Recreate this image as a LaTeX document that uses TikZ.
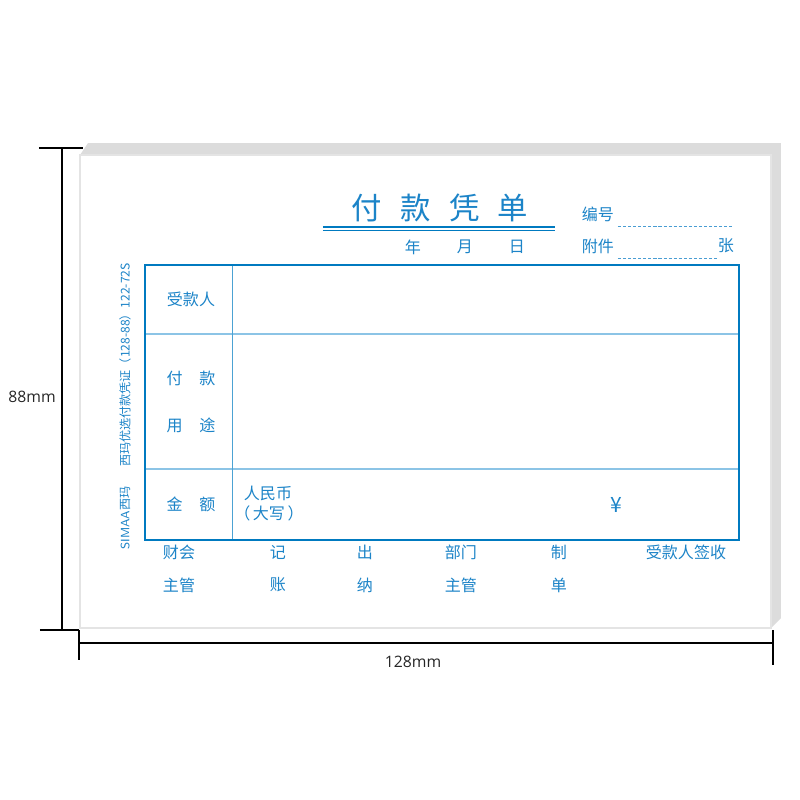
\documentclass[tikz,border=0pt]{standalone}
\usepackage{fontspec}
\setmainfont{Noto Sans CJK SC}
\newfontfamily\dimfont{Open Sans}
\usetikzlibrary{positioning}

\definecolor{formblue}{RGB}{0,122,192}
\definecolor{textblue}{RGB}{28,132,200}
\definecolor{rowblue}{RGB}{140,196,230}
\definecolor{shadowgray}{RGB}{220,220,220}
\definecolor{edgegray}{RGB}{228,228,228}

\newcommand{\sep}{\hspace{1.05em}}

\begin{document}
\begin{tikzpicture}[x=0.0125cm,y=-0.0125cm,
  lbl/.style={text=textblue,inner sep=0pt,font=\fontsize{5.7}{6.5}\selectfont},
  small/.style={text=textblue,inner sep=0pt,font=\fontsize{4.3}{5}\selectfont},
  dimtext/.style={inner sep=0pt,text=black!85,font=\dimfont\fontsize{5.6}{6}\selectfont},
  dimline/.style={black,line width=0.4pt},
  rowline/.style={rowblue,line width=0.5pt},
  fillin/.style={textblue!80,line width=0.35pt,dash pattern=on 1.1pt off 0.7pt}]
  \useasboundingbox (0,0) rectangle (800,800);

  % sheet with its stack behind
  \coordinate (tl) at (80,155);
  \coordinate (br) at (771,628);
  \fill[shadowgray] (tl) -- (88,143) -- (781,143) -- (781,618) -- (br) -- cycle;
  \filldraw[fill=white,draw=edgegray,line width=0.4pt] (tl) rectangle (br);

  % dimensions
  \coordinate (h1) at (62,148);
  \coordinate (h2) at (62,630);
  \coordinate (w1) at (79,643);
  \coordinate (w2) at (773,643);
  \draw[dimline] (39,148) -- (83,148);
  \draw[dimline] (40,630) -- (79,630);
  \draw[dimline] (h1) -- (h2);
  \draw[dimline] (79,630) -- (79,660);
  \draw[dimline] (773,630) -- (773,665);
  \draw[dimline] (w1) -- (w2);
  \node[dimtext] (hgt) at (32,397) {88mm};
  \node[dimtext] (wid) at (413,662) {128mm};

  % heading
  \node[text=textblue,inner sep=0pt,font=\fontsize{10.8}{12}\selectfont] (title) at (440,208)
    {付\hspace{0.6em}款\hspace{0.6em}凭\hspace{0.6em}单};
  \draw[formblue,line width=0.5pt] (323,226.8) -- (555,226.8);
  \draw[formblue,line width=0.4pt] (323,230.6) -- (555,230.6);
  \node[lbl] (year)  at (413,247) {年};
  \node[lbl] (month) at (465,247) {月};
  \node[lbl] (day)   at (517,247) {日};
  \node[lbl] (serial) at (598,214) {编号};
  \node[lbl] (annex)  at (598,246) {附件};
  \node[lbl] (sheets) at (726,246) {张};
  \draw[fillin] (618,226) -- (732,226);
  \draw[fillin] (618,258) -- (718,258);

  % table
  \draw[rowline] (145,334) -- (739,334);
  \draw[rowline] (145,469) -- (739,469);
  \draw[formblue!70,line width=0.3pt] (232,265) -- (232,540);
  \draw[formblue,line width=0.9pt] (145,265) rectangle (739,540);

  \node[lbl] (payee)   at (191,299) {受款人};
  \node[lbl] (purpose1) at (191,378) {付\sep 款};
  \node[lbl] (purpose2) at (191,425) {用\sep 途};
  \node[lbl] (amount)  at (191,504) {金\sep 额};
  \node[lbl] (rmb)     at (268,493) {人民币};
  \node[lbl] (upper)   at (269,513) {（\,大写\,）};
  \node[lbl,font=\fontsize{7.5}{8}\selectfont] (yen) at (616,505) {¥};

  % signatures
  \foreach \name/\x/\a/\b in {acct/179/财会/主管, book/278/记/账, cash/365/出/纳,
                              dept/461/部门/主管, make/559/制/单} {
    \node[lbl] (\name1) at (\x,552) {\a};
    \node[lbl] (\name2) at (\x,585) {\b};
  }
  \node[lbl] (receipt) at (686,552) {受款人签收};

  % side print
  \node[small,rotate=90] (brand) at (125,518) {{\sffamily SIMAA}西玛};
  \node[small,rotate=90] (code)  at (125,365) {西玛优选付款凭证（128-88）122-72S};
\end{tikzpicture}
\end{document}
